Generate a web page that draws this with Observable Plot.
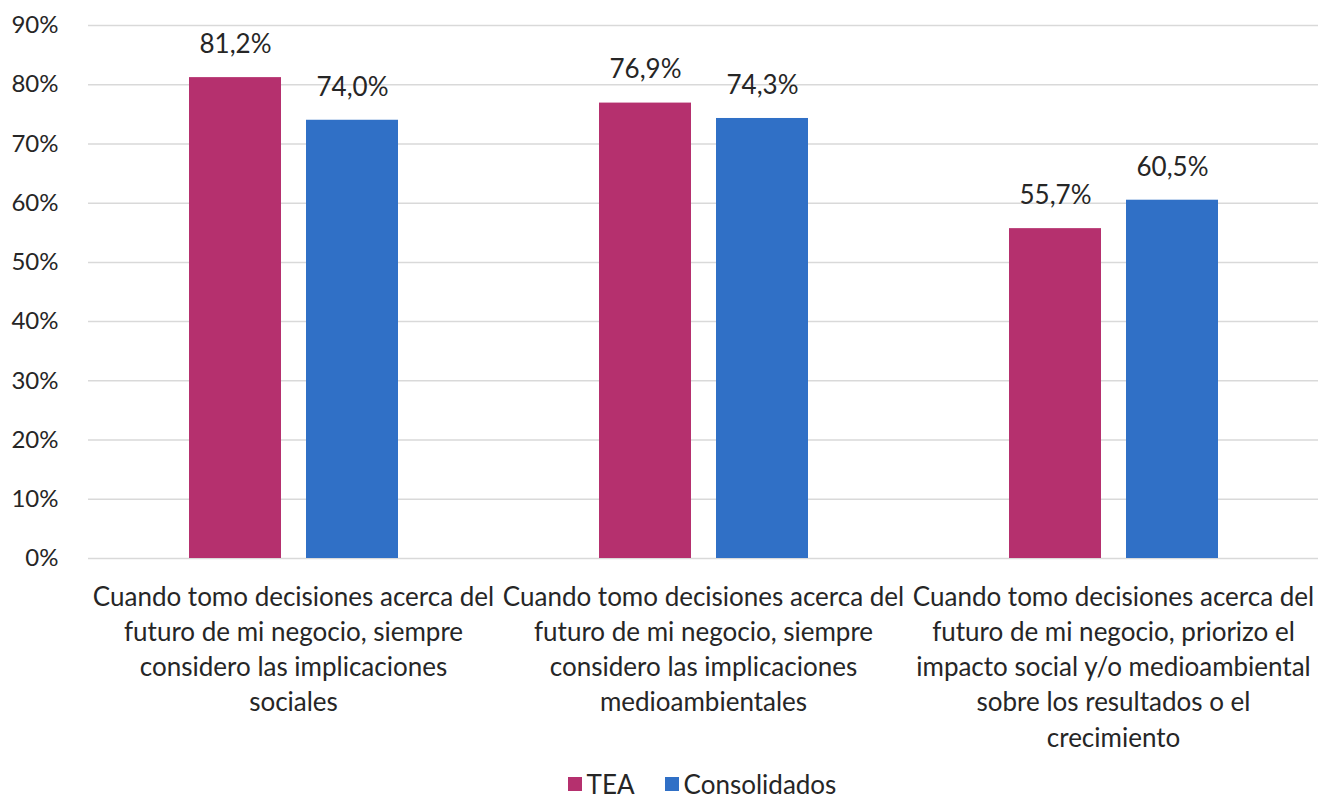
<!DOCTYPE html>
<html>
<head>
<meta charset="utf-8">
<script src="https://cdn.jsdelivr.net/npm/d3@7"></script>
<script src="https://cdn.jsdelivr.net/npm/@observablehq/plot@0.6"></script>
<style>
  body { margin: 0; background: #fff; font-family: Lato, sans-serif; }
  #legend { display: flex; justify-content: center; align-items: center; gap: 30px; font-size: 26px; line-height: 26px; color: #262626; height: 26px; margin-top: 8px; padding-left: 82px; }
  #legend span.item { display: flex; align-items: center; gap: 5px; }
  #legend i { display: inline-block; width: 14px; height: 14px; }
  #chart svg { display: block; }
</style>
</head>
<body>
<div id="chart"></div>
<div id="legend"></div>
<script>
const categories = [
  "Cuando tomo decisiones acerca del\nfuturo de mi negocio, siempre\nconsidero las implicaciones\nsociales",
  "Cuando tomo decisiones acerca del\nfuturo de mi negocio, siempre\nconsidero las implicaciones\nmedioambientales",
  "Cuando tomo decisiones acerca del\nfuturo de mi negocio, priorizo el\nimpacto social y/o medioambiental\nsobre los resultados o el\ncrecimiento"
];
const series = ["TEA", "Consolidados"];
const tea = [0.812, 0.769, 0.557];
const consolidados = [0.740, 0.743, 0.605];
const colors = ["#b5306e", "#3070c6"];
const yTicks = [0, 0.1, 0.2, 0.3, 0.4, 0.5, 0.6, 0.7, 0.8, 0.9];

const data = categories.flatMap((c, i) => [
  {cat: c, series: "TEA", value: tea[i]},
  {cat: c, series: "Consolidados", value: consolidados[i]}
]);
const fmt = v => d3.format(".1%")(v).replace(".", ",");

const chart = Plot.plot({
  width: 1322,
  height: 763,
  marginLeft: 88,
  marginRight: 4,
  marginTop: 25,
  marginBottom: 205,
  style: {fontFamily: "Lato, sans-serif", fontSize: "24px", color: "#262626", background: "#fff"},
  fx: {domain: categories, padding: 0, label: null},
  x: {domain: series, paddingInner: 0.214, paddingOuter: 0.855, axis: null},
  y: {domain: [0, 0.9], label: null},
  color: {domain: series, range: colors},
  marks: [
    Plot.gridY(yTicks, {stroke: "#d9d9d9", strokeOpacity: 1, strokeWidth: 1.5}),
    Plot.axisY(yTicks, {tickSize: 0, tickPadding: 30, tickFormat: d3.format(".0%"), fontSize: 24, label: null}),
    Plot.axisFx({anchor: "bottom", tickSize: 0, tickPadding: 22, lineHeight: 1.356, fontSize: 26, label: null}),
    Plot.barY(data, {fx: "cat", x: "series", y: "value", fill: "series"}),
    Plot.text(data, {fx: "cat", x: "series", y: "value", text: d => fmt(d.value), dy: -33, fontSize: 26, fill: "#262626"})
  ]
});
document.getElementById("chart").appendChild(chart);

const legend = document.getElementById("legend");
series.forEach((s, i) => {
  const item = document.createElement("span");
  item.className = "item";
  const sw = document.createElement("i");
  sw.style.background = colors[i];
  item.appendChild(sw);
  item.appendChild(document.createTextNode(s));
  legend.appendChild(item);
});
</script>
</body>
</html>
